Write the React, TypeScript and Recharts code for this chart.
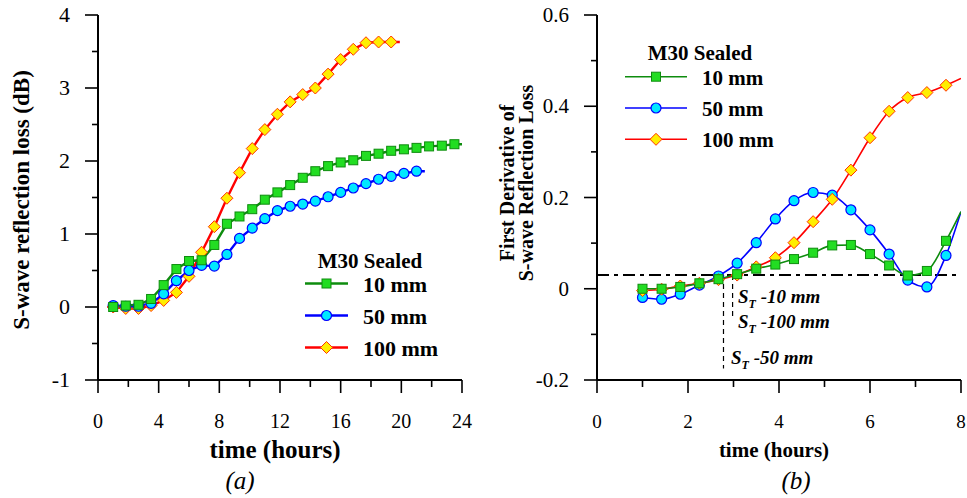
import React from "react";
import { LineChart, Line, XAxis, YAxis, ReferenceLine } from "recharts";

const FONT = "'Liberation Serif', 'Times New Roman', Times, serif";

// ---- (a) S-wave reflection loss (dB) vs time (hours)
const timeA = [1.0, 1.83, 2.67, 3.5, 4.33, 5.17, 6.0, 6.83, 7.67, 8.5, 9.33, 10.17, 11.0, 11.83, 12.67, 13.5, 14.33, 15.17, 16.0, 16.83, 17.67, 18.5, 19.33, 20.17, 21.0, 21.83, 22.67, 23.5];
const loss10 = [0, 0.02, 0.03, 0.11, 0.3, 0.52, 0.63, 0.64, 0.85, 1.14, 1.24, 1.34, 1.47, 1.57, 1.67, 1.77, 1.86, 1.93, 1.98, 2.01, 2.07, 2.1, 2.14, 2.16, 2.18, 2.2, 2.21, 2.23];
const loss50 = [0.02, 0.01, 0.01, 0.05, 0.18, 0.36, 0.5, 0.57, 0.56, 0.72, 0.94, 1.08, 1.21, 1.32, 1.38, 1.41, 1.45, 1.51, 1.57, 1.63, 1.69, 1.75, 1.79, 1.83, 1.86];
const loss100 = [0, -0.02, -0.02, 0.02, 0.09, 0.2, 0.42, 0.75, 1.1, 1.49, 1.84, 2.17, 2.43, 2.64, 2.81, 2.91, 3.0, 3.19, 3.39, 3.53, 3.62, 3.63, 3.63];
// line runs on a bit past the last marker
const tailA10 = { t: 24.0, v: 2.23 };
const tailA50 = { t: 21.55, v: 1.86 };
const tailA100 = { t: 19.9, v: 3.63 };
const ticksXA = [0, 2, 4, 6, 8, 10, 12, 14, 16, 18, 20, 22, 24];
const ticksYA = [-1, -0.5, 0, 0.5, 1, 1.5, 2, 2.5, 3, 3.5, 4];

// ---- (b) first derivative vs time (hours)
const timeB = [1.0, 1.42, 1.83, 2.25, 2.67, 3.08, 3.5, 3.92, 4.33, 4.75, 5.17, 5.58, 6.0, 6.42, 6.83, 7.25, 7.67];
const der10 = [0, 0, 0.004, 0.012, 0.021, 0.032, 0.044, 0.053, 0.065, 0.079, 0.095, 0.096, 0.076, 0.051, 0.029, 0.039, 0.105];
const der50 = [-0.019, -0.023, -0.012, 0.008, 0.028, 0.056, 0.101, 0.153, 0.193, 0.211, 0.205, 0.173, 0.129, 0.076, 0.019, 0.004, 0.073];
const der100 = [-0.004, -0.001, 0.006, 0.012, 0.02, 0.03, 0.048, 0.068, 0.101, 0.147, 0.196, 0.26, 0.331, 0.389, 0.419, 0.43, 0.446];
const tailB10 = { t: 8.0, v: 0.169 };
const tailB50 = { t: 8.0, v: 0.169 };
const tailB100 = { t: 8.0, v: 0.461 };
const ticksXB = [0, 1, 2, 3, 4, 5, 6, 7, 8];
const ticksYB = [-0.2, -0.1, 0, 0.1, 0.2, 0.3, 0.4, 0.5, 0.6];
const threshold = 0.03;
const onset50 = 2.78;
const onset100 = 2.98;

const GREEN = { line: "#0e8c0e", fill: "#22dd22", edge: "#0e8c0e" };
const BLUE = { line: "#0000ff", fill: "#00e8ff", edge: "#0000ff" };
const RED = { line: "#ff0000", fill: "#ffee00", edge: "#ff3300" };

function build(times: number[], vals: number[], tail: { t: number; v: number }) {
  const pts: any[] = vals.map((v, i) => ({ t: times[i], v }));
  pts.push({ t: tail.t, v: tail.v, tail: true });
  return pts;
}

function Marker({ kind, x, y, s, fill, stroke }: any) {
  if (kind === "square")
    return <rect x={x - s} y={y - s} width={2 * s} height={2 * s} fill={fill} stroke={stroke} strokeWidth={1} />;
  if (kind === "circle")
    return <circle cx={x} cy={y} r={s} fill={fill} stroke={stroke} strokeWidth={1.2} />;
  return (
    <polygon
      points={`${x},${y - s} ${x + s},${y} ${x},${y + s} ${x - s},${y}`}
      fill={fill}
      stroke={stroke}
      strokeWidth={1}
    />
  );
}

const dotFn = (kind: string, s: number, c: any) => (p: any) => {
  const k = `${kind}-${p.index}`;
  if (p.payload?.tail || p.cx == null) return <g key={k} />;
  return (
    <g key={k}>
      <Marker kind={kind} x={p.cx} y={p.cy} s={s} fill={c.fill} stroke={c.edge} />
    </g>
  );
};

const XTick = ({ x, y, payload, every, fs }: any) => {
  const v = payload.value;
  const major = Math.abs(Math.round(v / every) * every - v) < 1e-6;
  return (
    <g>
      <line x1={x} x2={x} y1={y} y2={y + (major ? 13 : 7)} stroke="#000" strokeWidth={1.6} />
      {major && (
        <text x={x} y={y + 48} textAnchor="middle" fontFamily={FONT} fontSize={fs} fill="#000">
          {v}
        </text>
      )}
    </g>
  );
};

const YTick = ({ x, y, payload, every, fs, digits }: any) => {
  const v = payload.value;
  const major = Math.abs(Math.round(v / every) * every - v) < 1e-6;
  const label = Math.abs(v) < 1e-9 ? "0" : v.toFixed(digits);
  return (
    <g>
      <line x1={x - (major ? 13 : 6)} x2={x} y1={y} y2={y} stroke="#000" strokeWidth={1.6} />
      {major && (
        <text x={x - 28} y={y + 7} textAnchor="end" fontFamily={FONT} fontSize={fs} fill="#000">
          {label}
        </text>
      )}
    </g>
  );
};

function LegendBlock({ x, y, lineX1, lineX2, gap, fs, width }: any) {
  const items = [
    { kind: "square", c: GREEN, s: 4.5, label: "10 mm" },
    { kind: "circle", c: BLUE, s: 5, label: "50 mm" },
    { kind: "diamond", c: RED, s: 6, label: "100 mm" },
  ];
  const mid = (lineX1 + lineX2) / 2;
  return (
    <g>
      {items.map((it, i) => {
        const yy = y + i * gap;
        return (
          <g key={it.label}>
            <line x1={lineX1} x2={lineX2} y1={yy} y2={yy} stroke={it.c.line} strokeWidth={width} />
            <Marker kind={it.kind} x={mid} y={yy} s={it.s} fill={it.c.fill} stroke={it.c.edge} />
            <text x={x} y={yy + 8} fontFamily={FONT} fontSize={fs} fontWeight="bold" fill="#000">
              {it.label}
            </text>
          </g>
        );
      })}
    </g>
  );
}

function StLabel({ x, y, text }: any) {
  return (
    <text x={x} y={y} fontFamily={FONT} fontSize={19} fontWeight="bold" fontStyle="italic" fill="#000">
      <tspan>S</tspan>
      <tspan fontSize={12} dy={5}>T</tspan>
      <tspan dy={-5}>{" " + text}</tspan>
    </text>
  );
}

export default function App() {
  const a10 = build(timeA, loss10, tailA10);
  const a50 = build(timeA, loss50, tailA50);
  const a100 = build(timeA, loss100, tailA100);
  const b10 = build(timeB, der10, tailB10);
  const b50 = build(timeB, der50, tailB50);
  const b100 = build(timeB, der100, tailB100);

  const axisLine = { stroke: "#000", strokeWidth: 2 };

  return (
    <div style={{ position: "absolute", left: 0, top: 0, width: 967, height: 498, background: "#fff" }}>
      <div style={{ position: "absolute", left: 0, top: 0 }}>
        <LineChart width={480} height={440} margin={{ top: 15, right: 18, bottom: 40, left: 0 }}>
          <XAxis
            type="number"
            dataKey="t"
            domain={[0, 24]}
            ticks={ticksXA}
            allowDataOverflow
            height={20}
            tickSize={0}
            tickMargin={0}
            tickLine={false}
            axisLine={axisLine}
            tick={<XTick every={4} fs={20} />}
          />
          <YAxis
            type="number"
            dataKey="v"
            domain={[-1, 4]}
            ticks={ticksYA}
            allowDataOverflow
            width={98}
            tickSize={0}
            tickMargin={0}
            tickLine={false}
            axisLine={axisLine}
            tick={<YTick every={1} fs={22} digits={0} />}
          />
          <Line data={a100} dataKey="v" type="linear" stroke={RED.line} strokeWidth={2.4} dot={dotFn("diamond", 6, RED)} isAnimationActive={false} />
          <Line data={a50} dataKey="v" type="linear" stroke={BLUE.line} strokeWidth={2.4} dot={dotFn("circle", 5, BLUE)} isAnimationActive={false} />
          <Line data={a10} dataKey="v" type="linear" stroke={GREEN.line} strokeWidth={2.4} dot={dotFn("square", 4.5, GREEN)} isAnimationActive={false} />
        </LineChart>
      </div>

      <div style={{ position: "absolute", left: 500, top: 0 }}>
        <LineChart width={467} height={440} margin={{ top: 15, right: 6, bottom: 40, left: 0 }}>
          <XAxis
            type="number"
            dataKey="t"
            domain={[0, 8]}
            ticks={ticksXB}
            allowDataOverflow
            height={20}
            tickSize={0}
            tickMargin={0}
            tickLine={false}
            axisLine={axisLine}
            tick={<XTick every={2} fs={19} />}
          />
          <YAxis
            type="number"
            dataKey="v"
            domain={[-0.2, 0.6]}
            ticks={ticksYB}
            allowDataOverflow
            width={97}
            tickSize={0}
            tickMargin={0}
            tickLine={false}
            axisLine={axisLine}
            tick={<YTick every={0.2} fs={21} digits={1} />}
          />
          <ReferenceLine y={threshold} stroke="#000" strokeWidth={2} strokeDasharray="12 5 4 5" />
          <ReferenceLine
            segment={[{ x: onset50, y: threshold }, { x: onset50, y: -0.175 }]}
            stroke="#000"
            strokeWidth={1.2}
            strokeDasharray="5 4"
          />
          <ReferenceLine
            segment={[{ x: onset100, y: threshold }, { x: onset100, y: -0.065 }]}
            stroke="#000"
            strokeWidth={1.2}
            strokeDasharray="5 4"
          />
          <Line data={b50} dataKey="v" type="monotone" stroke={BLUE.line} strokeWidth={1.6} dot={dotFn("circle", 5, BLUE)} isAnimationActive={false} />
          <Line data={b100} dataKey="v" type="monotone" stroke={RED.line} strokeWidth={1.6} dot={dotFn("diamond", 6, RED)} isAnimationActive={false} />
          <Line data={b10} dataKey="v" type="monotone" stroke={GREEN.line} strokeWidth={1.6} dot={dotFn("square", 4.5, GREEN)} isAnimationActive={false} />
        </LineChart>
      </div>

      <svg width={967} height={498} style={{ position: "absolute", left: 0, top: 0, pointerEvents: "none" }}>
        {/* axis titles */}
        <text x={29} y={200} transform="rotate(-90 29 200)" textAnchor="middle" fontFamily={FONT} fontSize={23} fontWeight="bold">
          S-wave reflection loss (dB)
        </text>
        <text x={275} y={458} textAnchor="middle" fontFamily={FONT} fontSize={25} fontWeight="bold">
          time (hours)
        </text>
        <text x={240} y={489} textAnchor="middle" fontFamily={FONT} fontSize={25} fontStyle="italic">
          (a)
        </text>
        <text x={514} y={183} transform="rotate(-90 514 183)" textAnchor="middle" fontFamily={FONT} fontSize={20} fontWeight="bold">
          First Derivative of
        </text>
        <text x={533} y={183} transform="rotate(-90 533 183)" textAnchor="middle" fontFamily={FONT} fontSize={20} fontWeight="bold">
          S-wave Reflection Loss
        </text>
        <text x={774} y={457} textAnchor="middle" fontFamily={FONT} fontSize={21} fontWeight="bold">
          time (hours)
        </text>
        <text x={796} y={489} textAnchor="middle" fontFamily={FONT} fontSize={25} fontStyle="italic">
          (b)
        </text>

        {/* legends */}
        <text x={370} y={268} textAnchor="middle" fontFamily={FONT} fontSize={21} fontWeight="bold">
          M30 Sealed
        </text>
        <LegendBlock x={363} y={283.5} lineX1={305} lineX2={348} gap={32} fs={22} width={2.4} />
        <text x={700} y={60} textAnchor="middle" fontFamily={FONT} fontSize={21} fontWeight="bold">
          M30 Sealed
        </text>
        <LegendBlock x={702} y={76.7} lineX1={625} lineX2={687} gap={31.3} fs={21} width={1.6} />

        {/* onset annotations */}
        <StLabel x={738} y={303} text="-10 mm" />
        <StLabel x={738} y={328} text="-100 mm" />
        <StLabel x={731} y={364} text="-50 mm" />
      </svg>
    </div>
  );
}
